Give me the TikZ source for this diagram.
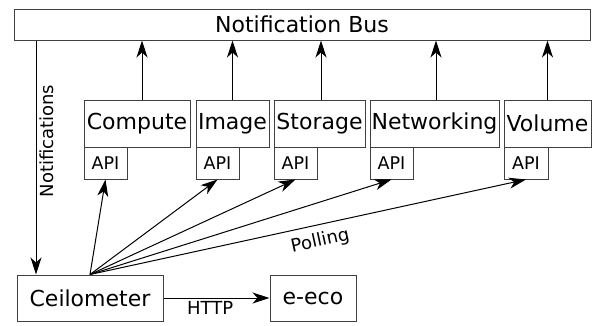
\documentclass[tikz,border=0pt]{standalone}
\usepackage{fontspec}
\setmainfont{DejaVu Sans}
\usetikzlibrary{arrows.meta}
\begin{document}
\begin{tikzpicture}[x=1pt,y=-1pt,
  box/.style={draw=black!75, line width=1pt, inner sep=0pt, font=\fontsize{22}{26}\selectfont},
  apibox/.style={draw=black!75, line width=1pt, inner sep=0pt, minimum width=43pt, minimum height=32pt, font=\fontsize{17.5}{21}\selectfont},
  arr/.style={draw=black, line width=1pt, -{Stealth[length=17pt,width=11pt,inset=5pt]}},
  lbl/.style={font=\fontsize{18}{22}\selectfont}]
\useasboundingbox (0,0) rectangle (595,325);
\node[box, minimum width=576pt, minimum height=31pt] (bus) at (302,24.5) {Notification Bus};
\node[box, minimum width=106pt, minimum height=47pt] (compute) at (137,123.5) {Compute};
\node[apibox] (capi) at (105.5,163) {API};
\node[box, minimum width=73pt, minimum height=47pt] (image) at (232.5,123.5) {Image};
\node[apibox] (iapi) at (217.5,163) {API};
\node[box, minimum width=91pt, minimum height=47pt] (storage) at (319.5,123.5) {Storage};
\node[apibox] (sapi) at (295.5,163) {API};
\node[box, minimum width=129pt, minimum height=47pt] (net) at (434.5,123.5) {Networking};
\node[apibox] (napi) at (391.5,163) {API};
\node[box, minimum width=87pt, minimum height=47pt] (vol) at (547.5,123.5) {Volume};
\node[apibox, minimum width=44pt] (vapi) at (526,163) {API};
\node[box, minimum width=146pt, minimum height=46pt] (ceil) at (90,298) {Ceilometer};
\node[box, minimum width=86pt, minimum height=46pt] (eco) at (313,298) {e-eco};
% up arrows to bus
\draw[arr] ([xshift=5pt]compute.north) -- ([xshift=5pt]compute.north |- bus.south);
\draw[arr] (image.north) -- (image.north |- bus.south);
\draw[arr] ([xshift=1.5pt]storage.north) -- ([xshift=1.5pt]storage.north |- bus.south);
\draw[arr] ([xshift=1.5pt]net.north) -- ([xshift=1.5pt]net.north |- bus.south);
\draw[arr] (vol.north) -- (vol.north |- bus.south);
% notifications
\coordinate (nend) at ([xshift=-54pt]ceil.north);
\draw[arr] (nend |- bus.south) -- node[lbl, pos=0.43, rotate=90, anchor=north, inner sep=3pt] {Notifications} (nend);
% polling
\draw[arr] (ceil.north) -- (capi.south);
\draw[arr] (ceil.north) -- (iapi.south);
\draw[arr] (ceil.north) -- (sapi.south);
\draw[arr] (ceil.north) -- (napi.south);
\draw[arr] (ceil.north) -- node[lbl, pos=0.52, sloped, below, yshift=-4pt] {Polling} (vapi.south);
% http
\draw[arr] (ceil.east) -- node[lbl, pos=0.44, below] {HTTP} (eco.west);
\end{tikzpicture}
\end{document}
